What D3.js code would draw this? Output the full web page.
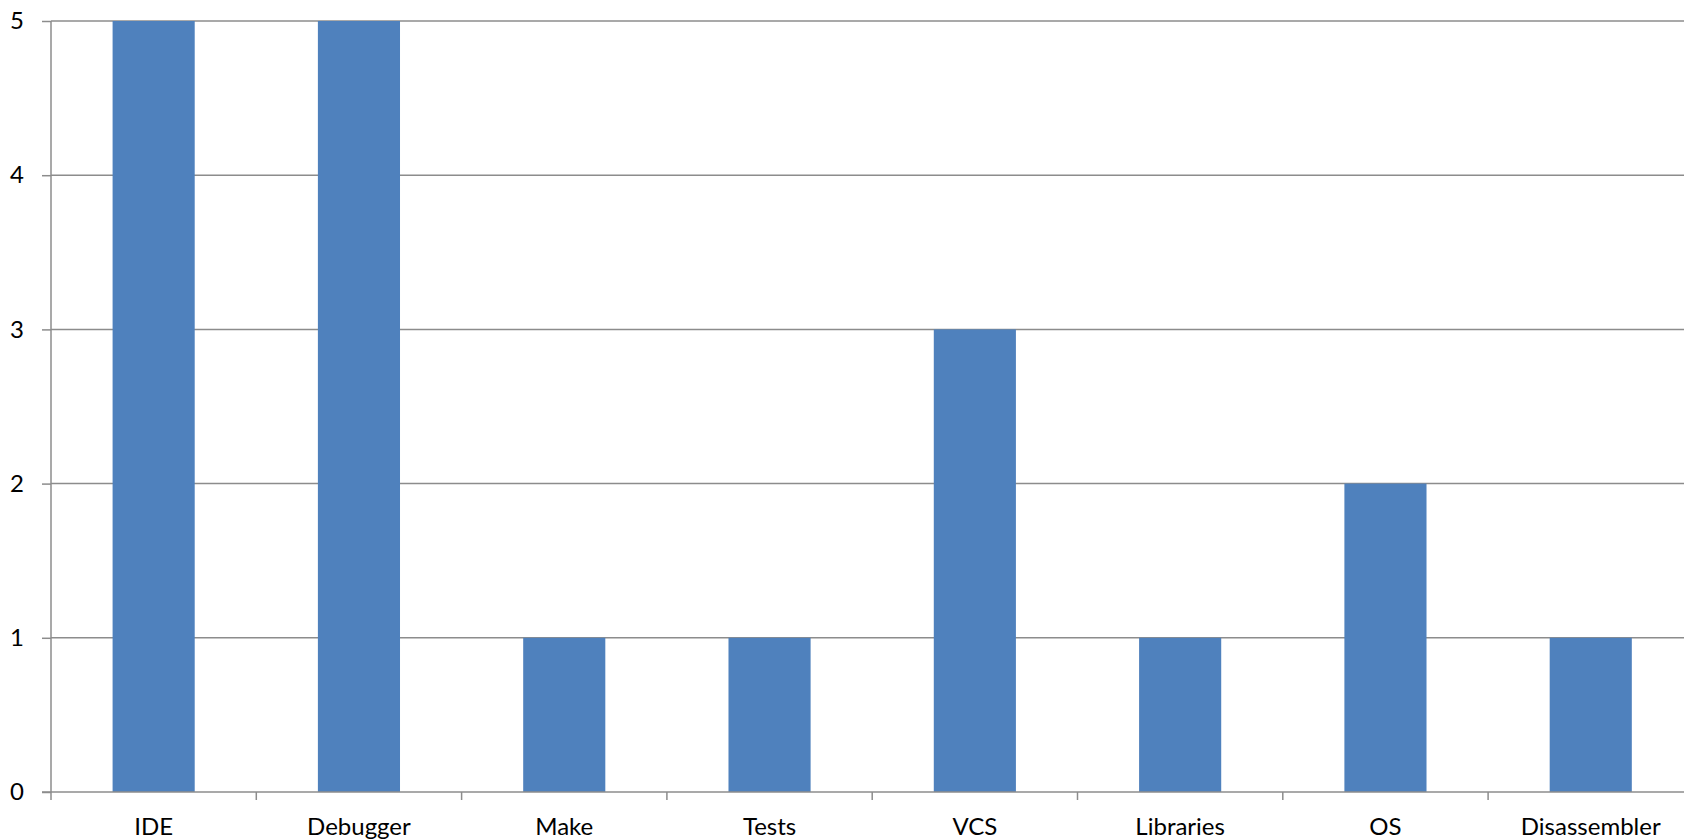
<!DOCTYPE html>
<html><head><meta charset="utf-8">
<script src="https://cdn.jsdelivr.net/npm/d3@7"></script>
<style>body{margin:0;background:#fff;overflow:hidden}svg{display:block}</style>
</head><body>
<script>
const categories = ["IDE","Debugger","Make","Tests","VCS","Libraries","OS","Disassembler"];
const values = [5,5,1,1,3,1,2,1];
const yTicks = [0,1,2,3,4,5];

(function(){
const W = 1684, H = 840;
const mLeft = 51, mTop = 21, mBottom = 792, mRight = 51 + 8*205.3;
const svg = d3.select("body").append("svg").attr("width", W).attr("height", H);

const x = d3.scaleBand().domain(categories).range([mLeft, mRight]).paddingInner(0.6).paddingOuter(0.3);
const y = d3.scaleLinear().domain([0,5]).range([mBottom, mTop]);
const font = "Lato, 'Open Sans', sans-serif";
const grey = "#8c8c8c";

// gridlines
svg.append("g").selectAll("line").data(yTicks.filter(d=>d>0)).join("line")
  .attr("x1", mLeft).attr("x2", W).attr("y1", d=>y(d)).attr("y2", d=>y(d))
  .attr("stroke", grey).attr("stroke-width", 1.5);

// bars
svg.append("g").selectAll("rect").data(values).join("rect")
  .attr("x", (d,i)=>x(categories[i])).attr("width", x.bandwidth())
  .attr("y", d=>y(d)).attr("height", d=>y(0)-y(d))
  .attr("fill", "#4f81bd");

// y axis
const ya = svg.append("g").attr("transform", `translate(${mLeft},0)`)
  .call(d3.axisLeft(y).tickValues(yTicks).tickSize(9).tickPadding(18).tickFormat(d3.format("d")));
ya.select(".domain").remove();
ya.selectAll(".tick line").attr("stroke", grey).attr("stroke-width", 1.5);
ya.selectAll("text").attr("font-family", font).attr("font-size", 24).attr("fill", "#000");
svg.append("line").attr("x1", mLeft).attr("x2", mLeft).attr("y1", mTop).attr("y2", mBottom+8)
  .attr("stroke", grey).attr("stroke-width", 1.5);

// x axis
const step = x.step();
const bounds = d3.range(1, 8).map(i => mLeft + i*step);
svg.append("line").attr("x1", mLeft-9).attr("x2", W).attr("y1", mBottom).attr("y2", mBottom)
  .attr("stroke", grey).attr("stroke-width", 1.5);
svg.append("g").selectAll("line").data(bounds).join("line")
  .attr("x1", d=>d).attr("x2", d=>d).attr("y1", mBottom).attr("y2", mBottom+8)
  .attr("stroke", grey).attr("stroke-width", 1.5);
svg.append("g").selectAll("text").data(categories).join("text")
  .attr("x", d=>x(d)+x.bandwidth()/2).attr("y", 835)
  .attr("text-anchor", "middle").attr("font-family", font).attr("font-size", 24)
  .attr("fill", "#000").text(d=>d);
})();
</script>
</body></html>
